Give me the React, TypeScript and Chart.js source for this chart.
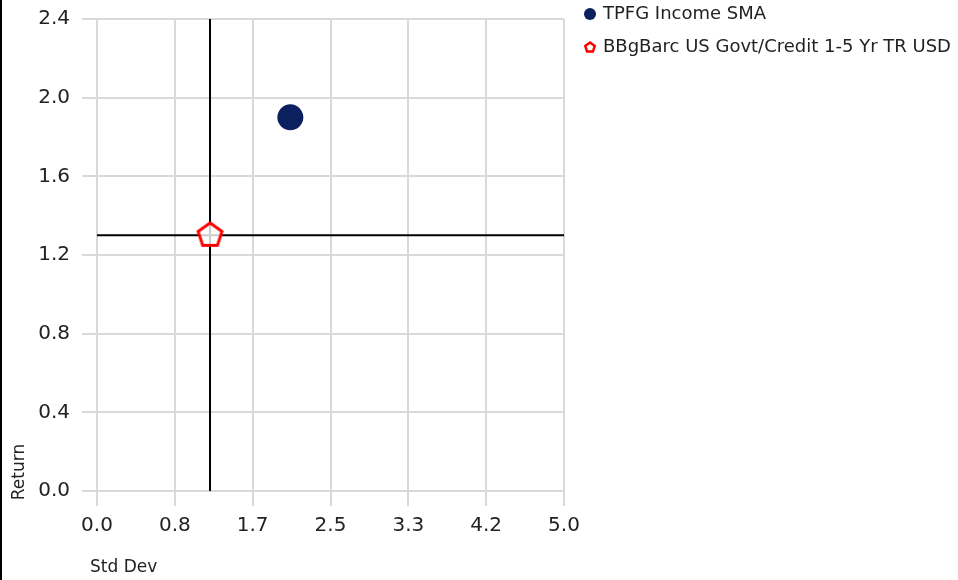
import React, { useEffect, useRef } from 'react';
import { Chart, registerables } from 'chart.js';

Chart.register(...registerables);

// Axis ranges and tick labels
const xTickLabels = ['0.0', '0.8', '1.7', '2.5', '3.3', '4.2', '5.0'];
const yTickLabels = ['0.0', '0.4', '0.8', '1.2', '1.6', '2.0', '2.4'];
const xMax = 5.0;
const yMax = 2.4;

// Risk / return points
const seriesNames = ['TPFG Income SMA', 'BBgBarc US Govt/Credit 1-5 Yr TR USD'];
const stdDev = [2.07, 1.21];
const returns = [1.9, 1.3];
const seriesColors = ['#0c1f5f', '#ff0000'];
const benchmarkIndex = 1;

const FONT = '"DejaVu Sans", Verdana, sans-serif';
const TEXT = '#222222';

function pentagonPath(ctx: CanvasRenderingContext2D, cx: number, cy: number, r: number) {
  ctx.beginPath();
  for (let k = 0; k < 5; k++) {
    const a = -Math.PI / 2 + (k * 2 * Math.PI) / 5;
    const px = cx + r * Math.cos(a);
    const py = cy + r * Math.sin(a);
    if (k === 0) ctx.moveTo(px, py);
    else ctx.lineTo(px, py);
  }
  ctx.closePath();
}

function makePentagon(r: number, lw: number, color: string, fill: string) {
  const size = Math.ceil(2 * (r + lw)) + 2;
  const c = document.createElement('canvas');
  c.width = size;
  c.height = size;
  const ctx = c.getContext('2d')!;
  pentagonPath(ctx, size / 2, size / 2, r);
  ctx.fillStyle = fill;
  ctx.fill();
  ctx.lineWidth = lw;
  ctx.strokeStyle = color;
  ctx.lineJoin = 'miter';
  ctx.stroke();
  return c;
}

const sideLegend = {
  id: 'sideLegend',
  afterDraw(chart: any) {
    const ctx: CanvasRenderingContext2D = chart.ctx;
    const x0 = chart.chartArea.right + 26;
    ctx.save();
    ctx.font = `18px ${FONT}`;
    ctx.textBaseline = 'middle';
    ctx.textAlign = 'left';
    seriesNames.forEach((name, i) => {
      const y = 14 + i * 33;
      if (i === 0) {
        ctx.beginPath();
        ctx.arc(x0, y, 6, 0, Math.PI * 2);
        ctx.fillStyle = seriesColors[i];
        ctx.fill();
      } else {
        pentagonPath(ctx, x0, y + 0.5, 5);
        ctx.fillStyle = '#ffffff';
        ctx.fill();
        ctx.lineWidth = 2.5;
        ctx.strokeStyle = seriesColors[i];
        ctx.stroke();
      }
      ctx.fillStyle = TEXT;
      ctx.fillText(name, x0 + 13, y);
    });
    ctx.restore();
  },
};

const axisTitles = {
  id: 'axisTitles',
  afterDraw(chart: any) {
    const ctx: CanvasRenderingContext2D = chart.ctx;
    ctx.save();
    ctx.font = `17px ${FONT}`;
    ctx.fillStyle = TEXT;
    ctx.textBaseline = 'middle';
    ctx.textAlign = 'left';
    ctx.fillText('Std Dev', 90, 568);
    ctx.translate(20, 472);
    ctx.rotate(-Math.PI / 2);
    ctx.textAlign = 'center';
    ctx.fillText('Return', 0, 0);
    ctx.restore();
  },
};

export default function App() {
  const ref = useRef<HTMLCanvasElement | null>(null);

  useEffect(() => {
    document.body.style.margin = '0';
    const canvas = ref.current!;
    const bx = stdDev[benchmarkIndex];
    const by = returns[benchmarkIndex];
    const pent = makePentagon(12.5, 3, seriesColors[1], 'rgba(255,255,255,0.8)');

    const chart = new Chart(canvas, {
      type: 'scatter',
      data: {
        datasets: [
          {
            label: seriesNames[0],
            data: [{ x: stdDev[0], y: returns[0] }],
            backgroundColor: seriesColors[0],
            borderWidth: 0,
            pointRadius: 13,
            order: 1,
          },
          {
            label: seriesNames[1],
            data: [{ x: stdDev[1], y: returns[1] }],
            pointStyle: pent as any,
            pointRadius: 12,
            order: 0,
          },
          {
            label: 'vline',
            data: [
              { x: bx, y: 0 },
              { x: bx, y: yMax },
            ],
            showLine: true,
            borderColor: '#000000',
            borderWidth: 2,
            pointRadius: 0,
            order: 3,
          },
          {
            label: 'hline',
            data: [
              { x: 0, y: by },
              { x: xMax, y: by },
            ],
            showLine: true,
            borderColor: '#000000',
            borderWidth: 2,
            pointRadius: 0,
            order: 3,
          },
        ],
      },
      options: {
        responsive: false,
        animation: false,
        devicePixelRatio: 1,
        layout: { autoPadding: false, padding: { left: 0, top: 19, right: 394, bottom: 0 } },
        plugins: {
          legend: { display: false },
          tooltip: { enabled: false },
        },
        scales: {
          x: {
            type: 'linear',
            min: 0,
            max: xMax,
            afterBuildTicks: (s: any) => {
              s.ticks = xTickLabels.map((_, i) => ({ value: (i * xMax) / (xTickLabels.length - 1) }));
            },
            afterFit: (s: any) => {
              s.height = 89;
              s.paddingLeft = 0;
              s.paddingRight = 0;
            },
            ticks: {
              autoSkip: false,
              maxRotation: 0,
              padding: 8,
              color: TEXT,
              font: { family: FONT, size: 20 },
              callback: (_v: any, i: number) => xTickLabels[i],
            },
            grid: { color: '#d9d9d9', lineWidth: 2, tickLength: 15 },
            border: { display: false },
          },
          y: {
            type: 'linear',
            min: 0,
            max: yMax,
            afterBuildTicks: (s: any) => {
              s.ticks = yTickLabels.map((_, i) => ({ value: (i * yMax) / (yTickLabels.length - 1) }));
            },
            afterFit: (s: any) => {
              s.width = 97;
              s.paddingTop = 0;
              s.paddingBottom = 0;
            },
            ticks: {
              autoSkip: false,
              padding: 12,
              color: TEXT,
              font: { family: FONT, size: 20 },
              callback: (_v: any, i: number) => yTickLabels[i],
            },
            grid: { color: '#d9d9d9', lineWidth: 2, tickLength: 15 },
            border: { display: false },
          },
        },
      },
      plugins: [sideLegend, axisTitles],
    });
    return () => chart.destroy();
  }, []);

  return (
    <div style={{ position: 'relative', width: 958, height: 580, background: '#ffffff' }}>
      <canvas ref={ref} width={958} height={580} style={{ display: 'block' }} />
      <div style={{ position: 'absolute', left: 0, top: 0, width: 2, height: 580, background: '#000000' }} />
    </div>
  );
}
